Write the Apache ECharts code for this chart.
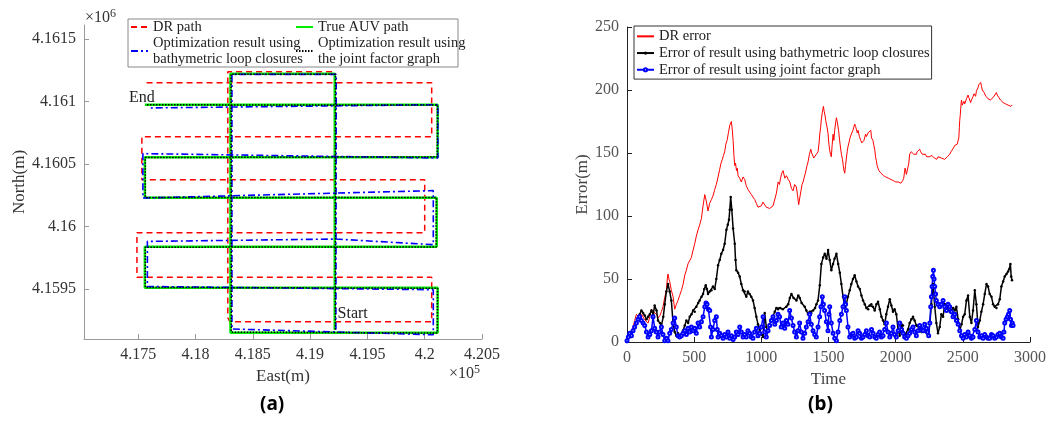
<!DOCTYPE html>
<html lang="en" style="height: 100%">
<head>
  <meta charset="utf-8">
  <title>AUV path and error</title>
  <script src="https://cdn.jsdelivr.net/npm/echarts@6/dist/echarts.min.js"></script>
</head>
<body style="height: 100%; margin: 0; background: #fff">
  <div id="main" style="width: 1063px; height: 421px"></div>
  <script type="text/javascript">
    // (a) paths, [East(m), North(m)]
    const drPath = [[419215,4159180],[419215,4161237],[418282,4161237],[418282,4159270],[418300,4159238],[420061,4159238],[420061,4159594],[417489,4159594],[417489,4159950],[420000,4159950],[420000,4160373],[417532,4160373],[417532,4160717],[420061,4160717],[420061,4161149],[417565,4161149]];
    const truePath = [[419215,4159174],[419215,4161221],[418305,4161221],[418305,4159150],[420113,4159150],[420113,4159510],[417558,4159510],[417558,4159838],[420105,4159838],[420105,4160230],[417558,4160230],[417558,4160553],[420113,4160553],[420113,4160973],[417558,4160973]];
    const loopPath = [[419225,4159175],[419228,4161215],[418318,4161215],[418318,4159180],[420075,4159134],[420075,4159494],[417580,4159520],[417580,4159880],[419225,4159899],[420075,4159854],[420075,4160286],[417541,4160227],[417541,4160582],[420115,4160547],[420115,4160973],[417602,4160947]];
    const jointPath = [[419220,4159176],[419222,4161216],[418310,4161216],[418312,4159155],[420110,4159148],[420112,4159506],[417562,4159512],[417562,4159834],[420100,4159836],[420102,4160232],[417562,4160232],[417562,4160550],[420110,4160556],[420112,4160970],[417562,4160972]];
    const eastTicks = [417500, 418000, 418500, 419000, 419500, 420000, 420500];
    const northTicks = [4159500, 4160000, 4160500, 4161000, 4161500];

    // (b) errors, [time, error(m)]
    const drError = [[0,0],[15,4],[30,8],[45,12],[57,17],[70,22],[82,22],[92,19],[100,18],[110,22],[119,20],[130,18],[140,17],[157,15],[170,20],[182,26],[195,24],[206,25],[220,22],[231,19],[245,21],[256,24],[268,28],[280,35],[293,41],[300,50],[305,54],[312,50],[318,48],[330,41],[343,36],[355,26],[368,30],[380,33],[392,37],[405,41],[418,46],[430,53],[442,57],[454,62],[467,63],[479,67],[492,73],[504,78],[516,84],[529,89],[541,93],[554,98],[566,108],[579,117],[590,112],[603,104],[615,110],[628,113],[640,116],[653,121],[665,125],[678,131],[690,137],[700,142],[710,145],[718,148],[727,151],[736,157],[745,160],[755,166],[765,172],[777,175],[784,168],[790,160],[796,148],[802,140],[808,142],[815,136],[821,138],[827,132],[839,130],[851,127],[864,131],[876,129],[888,124],[901,121],[913,119],[926,117],[938,115],[951,113],[963,110],[975,107],[988,108],[1000,108],[1012,111],[1025,110],[1037,107],[1050,108],[1062,106],[1075,107],[1087,108],[1100,109],[1112,118],[1125,127],[1135,125],[1143,130],[1152,134],[1162,136],[1175,130],[1187,132],[1200,129],[1212,127],[1224,122],[1236,120],[1248,125],[1261,123],[1270,116],[1278,109],[1287,115],[1295,120],[1303,125],[1311,127],[1320,131],[1330,135],[1340,140],[1348,143],[1358,149],[1368,153],[1375,150],[1383,150],[1390,146],[1398,147],[1410,149],[1422,151],[1430,158],[1435,165],[1441,170],[1447,177],[1454,182],[1462,187],[1468,183],[1474,180],[1479,176],[1484,177],[1490,170],[1497,165],[1503,157],[1509,152],[1515,149],[1521,147],[1527,156],[1534,165],[1540,160],[1546,168],[1553,174],[1559,178],[1565,175],[1575,168],[1585,158],[1596,149],[1604,145],[1610,140],[1615,136],[1621,134],[1627,140],[1633,146],[1639,151],[1645,155],[1652,158],[1660,162],[1670,165],[1682,168],[1695,173],[1702,171],[1708,170],[1714,166],[1720,168],[1730,163],[1740,160],[1748,158],[1757,157],[1764,160],[1770,161],[1776,165],[1782,163],[1795,166],[1807,165],[1815,168],[1820,162],[1826,163],[1831,160],[1838,156],[1845,152],[1850,147],[1856,144],[1862,140],[1868,138],[1875,136],[1881,135],[1890,134],[1900,133],[1910,132],[1918,132],[1926,131],[1935,131],[1945,130],[1955,131],[1965,129],[1975,130],[1984,128],[1992,129],[2000,127],[2010,128],[2020,127],[2030,128],[2038,126],[2045,127],[2052,128],[2060,130],[2066,135],[2070,138],[2075,138],[2080,133],[2085,132],[2092,134],[2098,142],[2104,149],[2110,148],[2116,151],[2122,150],[2129,152],[2135,149],[2141,148],[2148,150],[2154,149],[2160,151],[2166,150],[2172,152],[2179,153],[2186,151],[2192,150],[2198,149],[2204,148],[2212,150],[2222,149],[2230,147],[2241,148],[2250,147],[2260,147],[2270,148],[2278,148],[2288,146],[2297,147],[2306,145],[2316,147],[2328,146],[2340,146],[2352,145],[2365,145],[2375,146],[2385,147],[2393,148],[2402,149],[2412,151],[2420,152],[2430,154],[2440,156],[2446,157],[2452,155],[2458,157],[2465,157],[2470,162],[2474,170],[2477,176],[2481,180],[2484,185],[2487,189],[2490,192],[2496,188],[2502,187],[2508,191],[2514,189],[2520,190],[2527,193],[2533,194],[2539,196],[2545,194],[2552,193],[2558,190],[2564,192],[2570,191],[2577,195],[2583,197],[2589,198],[2595,195],[2601,199],[2607,200],[2613,202],[2618,204],[2623,203],[2628,205],[2633,206],[2639,203],[2645,200],[2651,201],[2658,198],[2665,197],[2672,195],[2680,194],[2688,193],[2696,193],[2705,192],[2715,193],[2725,194],[2732,195],[2738,196],[2744,197],[2750,198],[2756,196],[2762,195],[2768,194],[2775,193],[2781,192],[2787,192],[2793,191],[2800,190],[2809,190],[2818,189],[2827,189],[2837,188],[2844,188],[2850,187],[2858,187],[2866,188]];
    const loopError = [[0,0],[20,7],[40,9],[57,11],[70,16],[82,19],[95,22],[107,25],[120,23],[132,21],[145,18],[157,20],[170,22],[182,25],[195,22],[206,29],[220,25],[231,17],[245,15],[256,13],[270,20],[281,30],[293,40],[305,46],[318,40],[330,33],[343,15],[355,8],[367,5],[380,7],[392,4],[405,6],[417,9],[430,13],[442,17],[455,15],[467,20],[480,22],[492,25],[504,24],[516,28],[530,31],[541,33],[555,36],[566,38],[575,42],[586,45],[595,42],[603,38],[615,40],[628,41],[640,44],[653,42],[665,50],[678,61],[690,65],[702,70],[715,73],[727,78],[740,89],[750,93],[759,97],[765,105],[772,115],[780,105],[790,90],[802,78],[808,65],[814,57],[827,55],[839,52],[851,46],[864,41],[876,40],[888,36],[900,40],[913,38],[925,36],[938,33],[950,27],[963,20],[975,14],[988,9],[1000,6],[1013,4],[1025,23],[1037,12],[1050,8],[1062,14],[1075,17],[1085,20],[1100,24],[1112,27],[1124,26],[1140,27],[1160,26],[1186,28],[1200,30],[1212,35],[1224,38],[1240,35],[1261,33],[1275,37],[1286,35],[1300,31],[1323,28],[1335,25],[1348,22],[1360,24],[1372,23],[1385,25],[1400,27],[1410,30],[1422,33],[1435,45],[1447,62],[1460,67],[1472,70],[1485,66],[1497,73],[1509,65],[1521,57],[1534,62],[1545,66],[1559,70],[1572,62],[1584,55],[1596,46],[1608,36],[1621,28],[1633,30],[1645,36],[1658,41],[1670,46],[1682,50],[1695,53],[1708,48],[1720,44],[1733,42],[1745,37],[1757,33],[1770,30],[1782,27],[1795,26],[1807,29],[1819,30],[1831,28],[1844,25],[1857,30],[1869,32],[1882,26],[1894,20],[1906,17],[1918,14],[1930,22],[1943,28],[1956,34],[1968,29],[1980,24],[1992,26],[2005,22],[2018,10],[2030,5],[2043,14],[2055,13],[2067,5],[2080,6],[2092,10],[2104,15],[2117,18],[2129,20],[2141,17],[2154,13],[2166,13],[2179,11],[2192,8],[2204,9],[2222,8],[2241,5],[2255,15],[2266,30],[2278,46],[2291,28],[2303,15],[2315,7],[2328,12],[2340,22],[2353,20],[2365,30],[2377,30],[2390,27],[2402,24],[2415,25],[2428,27],[2440,25],[2452,28],[2465,18],[2477,9],[2490,14],[2502,20],[2514,22],[2527,33],[2539,37],[2552,20],[2564,15],[2576,25],[2589,41],[2601,30],[2613,12],[2626,17],[2638,24],[2651,30],[2663,38],[2676,46],[2688,44],[2700,38],[2713,36],[2725,30],[2737,28],[2750,27],[2762,30],[2775,34],[2787,44],[2800,48],[2812,52],[2825,54],[2837,56],[2846,58],[2854,62],[2860,52],[2866,49]];
    const jointError = [[0,1],[10,4],[20,7],[33,5],[45,9],[57,12],[70,15],[82,18],[94,20],[107,17],[120,15],[132,13],[145,8],[157,4],[170,6],[182,9],[194,20],[206,11],[218,8],[231,4],[243,8],[256,12],[268,6],[281,1],[293,3],[305,1],[318,7],[330,10],[343,15],[355,19],[367,12],[380,5],[392,4],[405,5],[417,7],[430,9],[442,6],[454,11],[467,8],[479,12],[492,9],[504,11],[516,7],[529,15],[541,12],[554,16],[566,20],[579,28],[588,31],[596,30],[606,26],[616,25],[622,12],[628,4],[640,10],[653,17],[665,20],[672,10],[678,4],[690,7],[702,5],[715,3],[727,6],[740,4],[752,8],[765,3],[777,5],[790,2],[802,4],[814,8],[827,6],[839,12],[851,8],[864,4],[876,6],[888,4],[900,9],[913,7],[925,4],[938,3],[950,8],[963,11],[975,5],[988,7],[1000,12],[1013,20],[1025,8],[1037,4],[1050,9],[1062,13],[1075,17],[1087,20],[1100,14],[1112,17],[1124,22],[1136,20],[1148,12],[1161,15],[1174,11],[1186,17],[1198,14],[1211,25],[1224,19],[1236,13],[1248,8],[1261,4],[1273,9],[1285,15],[1298,8],[1310,3],[1323,7],[1335,12],[1348,16],[1360,22],[1372,14],[1385,9],[1397,6],[1409,4],[1422,12],[1434,20],[1444,28],[1454,36],[1462,30],[1471,25],[1484,16],[1496,9],[1503,22],[1509,28],[1521,15],[1534,7],[1546,3],[1559,1],[1571,8],[1584,17],[1596,22],[1608,28],[1621,36],[1627,30],[1633,25],[1645,12],[1658,4],[1670,6],[1683,7],[1695,3],[1708,4],[1720,9],[1732,7],[1745,3],[1757,4],[1770,6],[1782,9],[1795,5],[1807,4],[1820,10],[1832,7],[1844,4],[1856,3],[1869,6],[1881,8],[1894,4],[1906,5],[1918,10],[1931,15],[1943,8],[1956,4],[1968,7],[1980,12],[1992,6],[2005,4],[2018,9],[2030,15],[2043,10],[2055,7],[2067,4],[2080,3],[2092,5],[2104,7],[2117,10],[2129,12],[2141,8],[2154,5],[2166,9],[2179,13],[2192,10],[2204,9],[2216,14],[2228,11],[2237,8],[2246,5],[2254,15],[2261,28],[2266,36],[2271,44],[2276,52],[2281,57],[2286,50],[2291,44],[2297,38],[2303,33],[2315,30],[2328,28],[2340,30],[2353,33],[2365,28],[2378,25],[2390,30],[2402,28],[2415,24],[2427,20],[2440,22],[2452,17],[2465,14],[2477,9],[2490,5],[2502,3],[2514,6],[2527,4],[2539,8],[2552,5],[2564,3],[2576,4],[2589,10],[2601,17],[2613,8],[2626,4],[2638,5],[2651,3],[2663,6],[2676,4],[2688,3],[2700,3],[2713,6],[2725,5],[2737,3],[2750,4],[2762,6],[2775,7],[2787,4],[2800,3],[2806,8],[2812,15],[2822,18],[2832,20],[2840,22],[2849,25],[2855,18],[2862,13],[2868,15],[2874,13]];

    const serif = 'Liberation Serif';
    const names = {
      dr: 'DR path',
      truth: 'True AUV path',
      loop: 'Optimization result using\nbathymetric loop closures',
      joint: 'Optimization result using\nthe joint factor graph',
      drErr: 'DR error',
      loopErr: 'Error of result using bathymetric loop closures',
      jointErr: 'Error of result using joint factor graph'
    };

    const chart = echarts.init(document.getElementById('main'), null, { renderer: 'canvas' });

    function axisA(extra) {
      return Object.assign({
        type: 'value',
        axisLine: { lineStyle: { color: '#999', width: 1 } },
        axisTick: { inside: true, length: 5, lineStyle: { color: '#999' } },
        axisLabel: { color: '#333', fontFamily: serif, fontSize: 16 },
        splitLine: { show: false },
        nameLocation: 'middle',
        nameTextStyle: { color: '#333', fontFamily: serif, fontSize: 17 }
      }, extra);
    }
    function axisB(extra) {
      return Object.assign({
        type: 'value',
        axisLine: { lineStyle: { color: '#222', width: 1 } },
        axisTick: { inside: true, length: 5, lineStyle: { color: '#222' } },
        axisLabel: { color: '#555', fontFamily: serif, fontSize: 16, formatter: v => String(v) },
        splitLine: { show: false },
        nameLocation: 'middle',
        nameTextStyle: { color: '#444', fontFamily: serif, fontSize: 17 }
      }, extra);
    }
    const legendText = { fontFamily: serif, fontSize: 14.5, color: '#222', lineHeight: 16 };

    const option = {
      animation: false,
      backgroundColor: '#fff',
      textStyle: { fontFamily: serif },
      grid: [
        { left: 84, right: 581, top: 25, bottom: 82 },
        { left: 627, right: 33, top: 27, bottom: 79 }
      ],
      xAxis: [
        axisA({
          gridIndex: 0, min: 417027, max: 420500, name: 'East(m)', nameGap: 25,
          axisTick: { inside: true, length: 5, lineStyle: { color: '#999' }, customValues: eastTicks },
          axisLabel: { color: '#333', fontFamily: serif, fontSize: 16, customValues: eastTicks,
            formatter: v => String(+(v / 1e5).toFixed(3)) }
        }),
        axisB({ gridIndex: 1, min: 0, max: 3000, interval: 500, name: 'Time', nameGap: 24 })
      ],
      yAxis: [
        axisA({
          gridIndex: 0, min: 4159100, max: 4161610, name: 'North(m)', nameGap: 49,
          axisTick: { inside: true, length: 5, lineStyle: { color: '#999' }, customValues: northTicks },
          axisLabel: { color: '#333', fontFamily: serif, fontSize: 16, customValues: northTicks,
            formatter: v => String(+(v / 1e6).toFixed(4)) }
        }),
        axisB({ gridIndex: 1, min: 0, max: 250, interval: 50, name: 'Error(m)', nameGap: 31 })
      ],
      legend: [
        {
          left: 128, top: 19, orient: 'vertical', padding: [0, 2, 0, 2], itemGap: 0,
          itemWidth: 17, itemHeight: 8, itemStyle: { opacity: 0 },
          textStyle: legendText,
          data: [names.dr, names.loop]
        },
        {
          left: 293, top: 19, orient: 'vertical', padding: [0, 2, 0, 2], itemGap: 0,
          itemWidth: 17, itemHeight: 8, itemStyle: { opacity: 0 },
          textStyle: legendText,
          data: [names.truth, names.joint]
        },
        {
          left: 634, top: 26, orient: 'vertical', padding: [2, 2, 1, 2], itemGap: 0,
          itemWidth: 17, itemHeight: 4,
          backgroundColor: '#fff', borderColor: '#333', borderWidth: 1,
          textStyle: Object.assign({}, legendText, { lineHeight: 16.7 }),
          data: [{ name: names.drErr, itemStyle: { opacity: 0 } }, names.loopErr, names.jointErr]
        }
      ],
      graphic: [
        { type: 'rect', z: 10, shape: { x: 128, y: 19, width: 330, height: 48 },
          style: { fill: 'none', stroke: '#888', lineWidth: 1 } },
        { type: 'text', left: 85, top: 8,
          style: { text: '×10{s|6}', fill: '#333', font: '16px "Liberation Serif"',
            rich: { s: { fontSize: 12, fontFamily: serif, verticalAlign: 'top', padding: [0, 0, 8, 0] } } } },
        { type: 'text', left: 449, top: 364,
          style: { text: '×10{s|5}', fill: '#333', font: '16px "Liberation Serif"',
            rich: { s: { fontSize: 12, fontFamily: serif, verticalAlign: 'top', padding: [0, 0, 8, 0] } } } },
        { type: 'text', left: 260, top: 395,
          style: { text: '(a)', fill: '#000', font: 'bold 19px "Noto Sans"' } },
        { type: 'text', left: 808, top: 395,
          style: { text: '(b)', fill: '#000', font: 'bold 19px "Noto Sans"' } }
      ],
      series: [
        { type: 'line', name: names.dr, xAxisIndex: 0, yAxisIndex: 0, data: drPath, symbol: 'none',
          itemStyle: { color: '#ff0000' }, lineStyle: { color: '#ff0000', width: 1.5, type: [6, 4] } },
        { type: 'line', name: names.truth, xAxisIndex: 0, yAxisIndex: 0, data: truePath, symbol: 'none',
          itemStyle: { color: '#00ee00' }, lineStyle: { color: '#00ee00', width: 2.5 },
          markPoint: {
            symbol: 'circle', symbolSize: 0,
            label: { show: true, fontFamily: serif, fontSize: 16, color: '#222' },
            data: [
              { coord: [417532, 4161025], label: { position: 'inside', formatter: 'End' } },
              { coord: [419222, 4159300], label: { position: 'right', distance: 2, formatter: 'Start' } }
            ]
          } },
        { type: 'line', name: names.loop, xAxisIndex: 0, yAxisIndex: 0, data: loopPath, symbol: 'none',
          itemStyle: { color: '#0000ff' }, lineStyle: { color: '#0000ff', width: 1.6, type: [7, 3, 2, 3] } },
        { type: 'line', name: names.joint, xAxisIndex: 0, yAxisIndex: 0, data: jointPath, symbol: 'none',
          itemStyle: { color: '#000' }, lineStyle: { color: '#000', width: 1.5, type: [1.5, 1.5] } },

        { type: 'line', name: names.drErr, xAxisIndex: 1, yAxisIndex: 1, data: drError, symbol: 'none',
          itemStyle: { color: '#ff0000' }, lineStyle: { color: '#ff0000', width: 1 } },
        { type: 'line', name: names.loopErr, xAxisIndex: 1, yAxisIndex: 1, data: loopError,
          symbol: 'circle', symbolSize: 2.5, showSymbol: true,
          itemStyle: { color: '#000' }, lineStyle: { color: '#000', width: 1.5 } },
        { type: 'line', name: names.jointErr, xAxisIndex: 1, yAxisIndex: 1, data: jointError,
          symbol: 'emptyCircle', symbolSize: 3, showSymbol: true,
          itemStyle: { color: '#0000ff', borderWidth: 1 }, lineStyle: { color: '#0000ff', width: 1.5 } }
      ]
    };
    chart.setOption(option);
  </script>
</body>
</html>
